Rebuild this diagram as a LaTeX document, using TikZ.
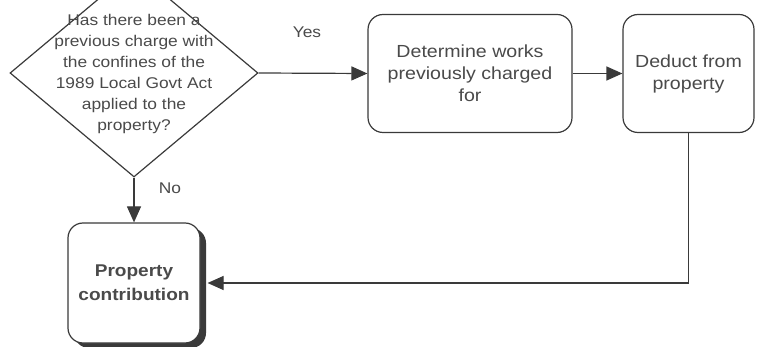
\documentclass[tikz,border=0pt]{standalone}
\usepackage{fontspec}
\setmainfont{Liberation Sans}[FakeStretch=1.12]
\usetikzlibrary{shapes.geometric,arrows.meta,shadows}
\definecolor{linec}{HTML}{3A3A3A}
\definecolor{textc}{HTML}{4A4A4A}
\begin{document}
\begin{tikzpicture}[x=1pt,y=-1pt,
  every node/.style={text=textc},
  conn/.style={draw=linec,line width=1.2pt,-{Triangle[length=16pt,width=14pt]}},
  procbox/.style={draw=linec,line width=1.2pt,rounded corners=15pt,fill=white,
    inner sep=0pt,align=center,font=\fontsize{17.5}{22}\selectfont},
  decision/.style={diamond,draw=linec,line width=1.2pt,inner sep=0pt,
    minimum width=248pt,minimum height=208pt},
  lbl/.style={font=\fontsize{15.5}{18}\selectfont,inner sep=0pt}
]
\useasboundingbox (0,0) rectangle (757,347);
\clip (0,0) rectangle (757,347);

\node[decision] (q) at (134,73) {};
\node[lbl,align=center,font=\fontsize{15.5}{21}\selectfont] (qt) at (134,74)
  {Has there been a\\previous charge with\\the confines of the\\1989 Local Govt Act\\applied to the\\property?};

\node[procbox,minimum width=204pt,minimum height=118pt] (det) at (470,73.5)
  {Determine works\\previously charged\\for};
\node[procbox,minimum width=131pt,minimum height=118pt] (ded) at (688.5,73.5)
  {Deduct from\\property};
\node[procbox,minimum width=132pt,minimum height=120pt,
  font=\fontsize{17}{24}\selectfont\bfseries,
  drop shadow={shadow xshift=6pt,shadow yshift=-5pt,fill=linec,opacity=1}]
  (prop) at (134,283) {Property\\contribution};

\draw[conn] (q.east) -- (det.west);
\draw[conn] (det.east) -- (ded.west);
\draw[conn] (q.south) -- (prop.north);
\draw[conn] (ded.south) |- ([xshift=7pt]prop.east);

\node[lbl] (yes) at (307,32) {Yes};
\node[lbl] (no) at (170,188) {No};
\end{tikzpicture}
\end{document}
